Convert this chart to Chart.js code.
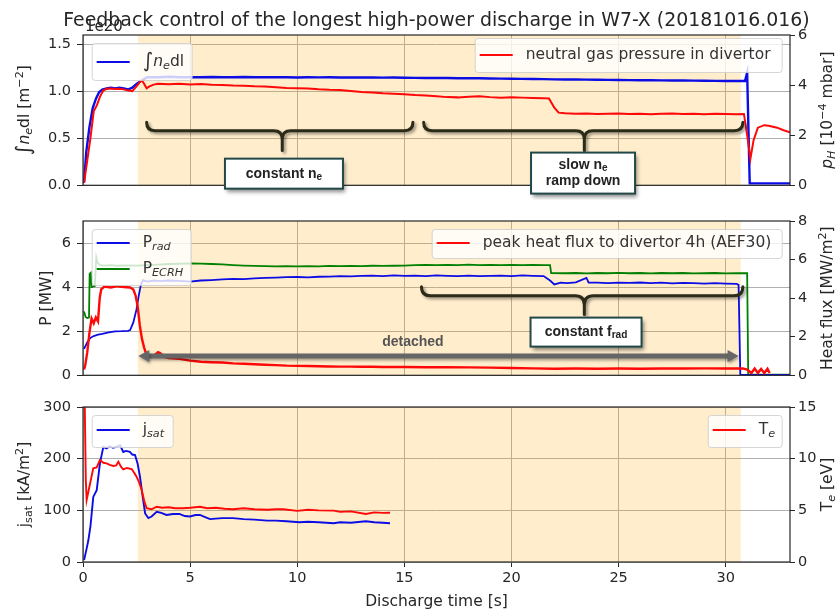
<!DOCTYPE html>
<html>
<head>
<meta charset="utf-8">
<script src="https://cdn.jsdelivr.net/npm/chart.js@4.4.0/dist/chart.umd.min.js"></script>
<style>
  html, body { margin: 0; padding: 0; background: #fff; }
  #wrap { position: relative; width: 840px; height: 613px; overflow: hidden; }
  canvas { position: absolute; left: 0; }
</style>
</head>
<body>
<div id="wrap">
  <canvas id="densityChart" width="840" height="200" style="top:0;width:840px;height:200px"></canvas>
  <canvas id="powerChart" width="840" height="190" style="top:200px;width:840px;height:190px"></canvas>
  <canvas id="probeChart" width="840" height="223" style="top:390px;width:840px;height:223px"></canvas>
</div>
<script>
// top panel: line integrated density [1e20 m^-2], neutral pressure [1e-4 mbar]
const neTime = [0.05,0.15,0.3,0.45,0.6,0.75,0.9,1.1,1.3,1.5,1.7,1.9,2.1,2.3,2.5,2.7,2.85,3.0,
  3.5,4,4.5,5,5.5,6,6.5,7,7.5,8,8.5,9,9.5,10,10.5,11,11.5,12,12.5,13,13.5,14,14.5,15,15.5,16,16.5,17,17.5,18,18.5,19,19.5,20,
  20.5,21,21.5,22,22.5,23,23.5,24,24.5,25,25.5,26,26.5,27,27.5,28,28.5,29,29.5,30,30.5,
  30.9,31.0,31.06,31.12,32,33];
const neLine = [0.03,0.35,0.62,0.82,0.92,0.99,1.02,1.03,1.04,1.03,1.04,1.03,1.02,1.04,1.08,1.11,1.13,1.15,
  1.15,1.155,1.15,1.152,1.15,1.153,1.15,1.151,1.153,1.15,1.152,1.15,1.151,1.148,1.15,1.149,1.151,1.148,1.149,1.147,1.148,1.146,1.147,1.145,1.144,1.143,1.144,1.142,1.14,1.141,1.139,1.137,1.136,1.134,
  1.133,1.131,1.13,1.128,1.127,1.126,1.125,1.124,1.122,1.121,1.12,1.119,1.118,1.117,1.116,1.115,1.114,1.113,1.112,1.111,1.11,
  1.11,1.2,0.6,0.02,0.02,0.02];

const pnTime = [0.05,0.2,0.35,0.5,0.65,0.8,0.95,1.1,1.3,1.5,1.7,1.9,2.1,2.3,2.5,2.65,2.75,2.85,2.97,3.1,3.3,3.5,
  4,4.5,5,5.5,6,6.5,7,7.5,8,8.5,9,9.5,10,10.5,11,11.5,12,12.5,13,13.5,14,14.5,15,15.5,16,16.5,17,17.5,18,18.5,19,19.5,20,20.5,21,21.5,
  21.75,22.0,22.2,
  22.5,23,23.5,24,24.5,25,25.5,26,26.5,27,27.5,28,28.5,29,29.5,30,30.5,
  30.85,31.0,31.15,31.3,31.5,31.8,32.0,32.4,32.7,33];
const pnLine = [0.1,1.0,1.9,2.95,3.2,3.55,3.78,3.85,3.86,3.84,3.85,3.83,3.78,3.76,3.95,4.12,4.19,4.05,3.87,3.95,4.02,4.05,
  4.03,4.05,4.02,4.04,4.01,4.0,3.98,3.97,3.95,3.94,3.91,3.88,3.87,3.86,3.83,3.81,3.8,3.76,3.72,3.7,3.67,3.65,3.63,3.6,3.58,3.55,3.52,3.51,3.53,3.55,3.52,3.5,3.51,3.5,3.49,3.48,
  3.47,3.1,2.9,
  2.88,2.86,2.87,2.85,2.86,2.87,2.85,2.86,2.84,2.86,2.87,2.85,2.86,2.84,2.86,2.85,2.84,
  2.85,2.0,1.05,1.8,2.3,2.4,2.38,2.3,2.2,2.12];

// middle panel: P_ECRH, P_rad [MW], peak divertor heat flux [MW/m^2]
const ecrhTime = [0.05,0.12,0.2,0.28,0.31,0.36,0.4,0.55,0.62,0.68,0.8,1.0,1.3,1.6,2.0,2.5,3.0,3.5,4.0,4.5,
  5,5.5,6,6.5,7,7.5,8,8.5,9,9.5,10,10.5,11,11.5,12,12.5,13,13.5,14,14.5,15,15.5,16,16.5,17,17.5,18,18.5,19,19.5,20,20.5,21,21.5,
  21.8,21.85,
  22.5,23,23.5,24,24.5,25,25.5,26,26.5,27,27.5,28,28.5,29,29.5,30,30.5,
  31.0,31.05,33];
const ecrhLine = [2.9,2.65,2.6,2.62,4.6,4.65,4.0,4.05,5.35,5.1,5.0,4.98,5.0,4.97,4.99,4.98,5.0,5.02,5.05,5.06,
  5.08,5.07,5.05,5.03,5.0,4.98,4.96,4.95,4.94,4.95,4.94,4.95,4.94,4.96,4.95,4.96,4.95,4.97,4.96,4.97,4.98,5.0,5.01,5.0,5.01,5.0,5.02,5.0,5.01,5.0,5.01,5.0,5.01,5.0,
  5.0,4.64,
  4.63,4.64,4.62,4.64,4.63,4.65,4.63,4.64,4.62,4.64,4.63,4.64,4.62,4.63,4.64,4.62,4.63,
  4.63,0.03,0.03];

const pradTime = [0.05,0.2,0.35,0.5,0.7,0.9,1.2,1.5,1.8,2.1,2.2,2.35,2.5,2.6,2.7,2.8,3.0,3.3,3.6,4.0,4.5,
  5,5.5,6,6.5,7,7.5,8,8.5,9,9.5,10,10.5,11,11.5,12,12.5,13,13.5,14,14.5,15,15.5,16,16.5,17,17.5,18,18.5,19,19.5,20,20.5,21,21.5,
  21.8,22.0,22.3,22.6,23.0,23.5,23.6,
  24,24.5,25,25.5,26,26.5,27,27.5,28,28.5,29,29.5,30,30.5,
  30.6,30.68,33];
const pradLine = [1.2,1.5,1.7,1.78,1.84,1.88,1.95,1.99,2.0,2.02,2.05,2.4,3.0,3.6,4.1,4.32,4.25,4.3,4.27,4.3,4.28,
  4.25,4.3,4.32,4.35,4.37,4.36,4.4,4.42,4.43,4.45,4.46,4.44,4.47,4.48,4.5,4.49,4.51,4.52,4.5,4.53,4.51,4.52,4.5,4.53,4.51,4.5,4.52,4.5,4.51,4.52,4.5,4.53,4.51,4.5,
  4.3,4.12,4.2,4.18,4.22,4.42,4.2,
  4.2,4.18,4.2,4.19,4.21,4.18,4.2,4.17,4.19,4.18,4.16,4.18,4.16,4.15,
  4.1,0.02,0.02];

const hfTime = [0.05,0.1,0.2,0.3,0.4,0.5,0.6,0.7,0.78,0.85,1.0,1.3,1.6,1.9,2.2,2.35,2.45,2.55,2.65,2.75,2.85,2.97,3.1,3.3,3.5,3.6,3.8,4.0,4.5,5.0,5.5,6.0,6.5,
  7,7.5,8,8.5,9,9.5,10,10.5,11,11.5,12,12.5,13,13.5,14,14.5,15,
  16,17,18,19,20,21,22,23,24,25,26,27,28,29,30,
  30.8,31.0,31.2,31.35,31.5,31.65,31.8,31.95,32.05];
const hfLine = [0.3,0.5,1.2,2.2,2.95,2.7,3.0,2.8,4.0,4.45,4.6,4.55,4.62,4.58,4.55,4.45,4.15,3.6,2.6,1.9,1.45,1.05,0.98,1.0,1.2,1.15,0.95,0.9,0.85,0.76,0.7,0.68,0.66,
  0.62,0.6,0.57,0.55,0.53,0.5,0.49,0.48,0.47,0.46,0.45,0.45,0.44,0.44,0.43,0.43,0.43,
  0.42,0.42,0.41,0.4,0.38,0.36,0.34,0.35,0.34,0.35,0.34,0.35,0.35,0.36,0.35,
  0.36,0.3,0.12,0.35,0.12,0.33,0.12,0.34,0.12];

// bottom panel: j_sat [kA/m^2], T_e [eV]
const jsTime = [0.05,0.15,0.25,0.35,0.48,0.64,0.79,0.95,1.1,1.25,1.4,1.55,1.73,1.88,2.0,2.19,2.3,2.43,2.55,2.66,2.78,2.9,3.05,3.2,3.44,3.65,3.9,
  4.2,4.5,4.75,5.0,5.25,5.46,5.7,5.93,6.2,6.5,7.0,7.5,8.0,8.6,9.0,9.5,10.1,10.5,11.0,11.7,12.0,12.5,13.2,13.6,14.0,14.33];
const jsLine = [4,22,42,70,126,139,191,223,220,224,221,223,226,213,215,213,208,207,190,165,128,94,85,88,97,95,91,
  93,93,89,88,91,91,87,83,84,85,85,83,82,80,80,79,77,78,77,75,77,76,79,77,76,75];

const teTime = [0.05,0.13,0.17,0.25,0.33,0.48,0.64,0.79,0.95,1.1,1.25,1.42,1.55,1.65,1.78,1.88,2.05,2.27,2.4,2.5,2.62,2.74,2.86,2.97,3.2,3.44,
  3.7,4.0,4.3,4.68,5.0,5.46,5.8,6.2,6.6,7.0,7.5,8.0,8.6,9.0,9.35,10,10.5,11,11.7,12.0,12.5,13.2,13.6,14.0,14.33];
const teLine = [20,8,6.0,6.8,7.6,9.07,9.16,9.87,9.6,9.55,9.4,9.29,9.35,9.71,9.2,8.97,9.1,9.0,8.6,8.26,7.7,6.97,5.9,5.2,5.1,5.35,
  5.25,5.3,5.2,5.2,5.25,5.35,5.2,5.25,5.15,5.1,5.2,5.1,5.05,5.1,5.1,4.95,5.05,5.0,4.97,4.85,4.9,4.65,4.8,4.75,4.77];

// flat-top phase shaded in all panels [s]
const shadeSpan = [2.56, 30.7];

const FAMILY = '"DejaVu Sans", sans-serif';
const BOLD_FAMILY = '"Liberation Sans", Arial, sans-serif';
const INK = '#262626';
const BLUE = 'rgb(12,12,228)';
const RED = 'rgb(255,8,8)';
const GREEN = 'rgb(0,128,0)';

function pts(ts, vs) {
  return ts.map((t, i) => ({ x: t, y: vs[i] }));
}

// text with sub/superscripts, parts = ['text', ['e', 'it sub'], ...]
function drawRich(ctx, parts, x, y, o = {}) {
  const size = o.size || 15.5;
  const family = o.family || FAMILY;
  const runs = parts.map(p => {
    const text = Array.isArray(p) ? p[0] : p;
    const mode = Array.isArray(p) ? p[1].split(' ') : [];
    const small = mode.includes('sub') || mode.includes('sup');
    let sz = small ? size * 0.72 : size;
    if (mode.includes('big')) sz = size * 1.3;
    const font = (mode.includes('it') ? 'italic ' : '') + (o.bold ? 'bold ' : '') + sz.toFixed(1) + 'px ' + family;
    ctx.font = font;
    const dy = mode.includes('sub') ? size * 0.25 : mode.includes('sup') ? -size * 0.3 : 0;
    return { text, font, dy, w: ctx.measureText(text).width };
  });
  const total = runs.reduce((s, r) => s + r.w, 0);
  ctx.save();
  ctx.translate(x, y);
  if (o.rot) ctx.rotate(o.rot);
  ctx.fillStyle = o.color || INK;
  ctx.textBaseline = 'middle';
  ctx.textAlign = 'left';
  let cx = o.align === 'left' ? 0 : -total / 2;
  runs.forEach(r => { ctx.font = r.font; ctx.fillText(r.text, cx, r.dy); cx += r.w; });
  ctx.restore();
}

function drawLegend(ctx, a, lg) {
  const x = lg.side === 'left' ? a.left + lg.dx : a.right - lg.dx - lg.w;
  const y = a.top + lg.dy;
  ctx.save();
  ctx.fillStyle = 'rgba(255,255,255,0.8)';
  ctx.strokeStyle = 'rgba(204,204,204,0.8)';
  ctx.lineWidth = 1;
  ctx.beginPath();
  ctx.roundRect(x + 0.5, y + 0.5, lg.w, lg.h, 3);
  ctx.fill();
  ctx.stroke();
  lg.entries.forEach(e => {
    const ey = y + e.dy;
    ctx.strokeStyle = e.color;
    ctx.lineWidth = 2;
    ctx.beginPath();
    ctx.moveTo(x + 5, ey);
    ctx.lineTo(x + 38, ey);
    ctx.stroke();
    drawRich(ctx, e.parts, x + 51, ey, { align: 'left', color: '#333' });
  });
  ctx.restore();
}

function drawBrace(ctx, chart, t0, t1, tc, vEnd, vLine, vTip) {
  const { x, y } = chart.scales;
  const x0 = x.getPixelForValue(t0), x1 = x.getPixelForValue(t1), xc = x.getPixelForValue(tc);
  const ye = y.getPixelForValue(vEnd), yl = y.getPixelForValue(vLine), yt = y.getPixelForValue(vTip);
  const r = yl - ye;
  ctx.save();
  ctx.strokeStyle = '#2b2b17';
  ctx.lineWidth = 3;
  ctx.lineCap = 'round';
  ctx.shadowColor = 'rgba(0,0,0,0.4)';
  ctx.shadowBlur = 3;
  ctx.shadowOffsetX = 2;
  ctx.shadowOffsetY = 2;
  ctx.beginPath();
  ctx.moveTo(x0, ye);
  ctx.quadraticCurveTo(x0, yl, x0 + r, yl);
  ctx.lineTo(xc - r, yl);
  ctx.quadraticCurveTo(xc, yl, xc, yl + r);
  ctx.lineTo(xc, yt);
  ctx.moveTo(xc, yl + r);
  ctx.quadraticCurveTo(xc, yl, xc + r, yl);
  ctx.lineTo(x1 - r, yl);
  ctx.quadraticCurveTo(x1, yl, x1, ye);
  ctx.stroke();
  ctx.restore();
}

function drawNote(ctx, chart, tc, vc, w, h, lines) {
  const cx = chart.scales.x.getPixelForValue(tc), cy = chart.scales.y.getPixelForValue(vc);
  ctx.save();
  ctx.shadowColor = 'rgba(0,0,0,0.45)';
  ctx.shadowBlur = 4;
  ctx.shadowOffsetX = 2;
  ctx.shadowOffsetY = 3;
  ctx.fillStyle = '#fff';
  ctx.fillRect(cx - w / 2, cy - h / 2, w, h);
  ctx.shadowColor = 'transparent';
  ctx.strokeStyle = '#234848';
  ctx.lineWidth = 2;
  ctx.strokeRect(cx - w / 2, cy - h / 2, w, h);
  ctx.restore();
  lines.forEach((parts, i) => {
    drawRich(ctx, parts, cx, cy + (i - (lines.length - 1) / 2) * 16,
      { size: 14, bold: true, family: BOLD_FAMILY, color: '#222' });
  });
}

function drawSpanArrow(ctx, chart, t0, t1, v) {
  const x0 = chart.scales.x.getPixelForValue(t0), x1 = chart.scales.x.getPixelForValue(t1);
  const yy = chart.scales.y.getPixelForValue(v);
  ctx.save();
  ctx.shadowColor = 'rgba(0,0,0,0.35)';
  ctx.shadowBlur = 3;
  ctx.shadowOffsetX = 1;
  ctx.shadowOffsetY = 2;
  ctx.strokeStyle = '#666';
  ctx.fillStyle = '#666';
  ctx.lineWidth = 5;
  ctx.beginPath();
  ctx.moveTo(x0 + 8, yy);
  ctx.lineTo(x1 - 8, yy);
  ctx.stroke();
  ctx.beginPath();
  ctx.moveTo(x0, yy); ctx.lineTo(x0 + 11, yy - 6); ctx.lineTo(x0 + 11, yy + 6); ctx.closePath();
  ctx.moveTo(x1, yy); ctx.lineTo(x1 - 11, yy - 6); ctx.lineTo(x1 - 11, yy + 6); ctx.closePath();
  ctx.fill();
  ctx.restore();
}

function decor(spec) {
  return {
    id: 'decor',
    beforeDatasetsDraw(chart) {
      const { ctx, chartArea: a, scales: { x } } = chart;
      const x0 = x.getPixelForValue(shadeSpan[0]), x1 = x.getPixelForValue(shadeSpan[1]);
      ctx.save();
      ctx.fillStyle = 'rgba(255,165,0,0.2)';
      ctx.fillRect(x0, a.top, x1 - x0, a.bottom - a.top);
      ctx.restore();
    },
    afterDatasetsDraw(chart) {
      const { ctx, chartArea: a } = chart;
      ctx.save();
      ctx.strokeStyle = INK;
      ctx.lineWidth = 1.2;
      ctx.strokeRect(a.left, a.top, a.right - a.left, a.bottom - a.top);
      ctx.restore();
      spec.legends.forEach(lg => drawLegend(ctx, a, lg));
    },
    afterDraw(chart) {
      const { ctx, chartArea: a } = chart;
      const midY = (a.top + a.bottom) / 2;
      drawRich(ctx, spec.leftTitle, spec.leftX, midY, { rot: -Math.PI / 2 });
      drawRich(ctx, spec.rightTitle, 828, midY, { rot: -Math.PI / 2 });
      if (spec.extra) spec.extra(chart, ctx, a);
    }
  };
}

function xScale(showLabels) {
  return {
    type: 'linear', min: 0, max: 33,
    ticks: { stepSize: 5, includeBounds: false, display: showLabels, color: INK,
      font: { family: FAMILY, size: 14.5 }, padding: 3, maxRotation: 0 },
    grid: { color: '#b0b0b0', lineWidth: 1, drawTicks: showLabels, tickLength: 5, tickColor: INK },
    border: { display: false },
    afterFit: s => { s.height = showLabels ? 51 : 0; }
  };
}

function yScale(side, min, max, step, fmt) {
  const left = side === 'left';
  return {
    type: 'linear', position: side, min, max,
    ticks: { stepSize: step, includeBounds: false, color: INK, font: { family: FAMILY, size: 14.5 },
      padding: left ? 6 : 3, callback: fmt || (v => v) },
    grid: { drawOnChartArea: left, color: '#b0b0b0', lineWidth: 1, tickLength: left ? 6 : 5, tickColor: INK },
    border: { display: false },
    afterFit: s => { s.width = left ? 83 : 50; }
  };
}

function series(label, ts, vs, color, axis, order, width) {
  return {
    label, data: pts(ts, vs), borderColor: color, borderWidth: width || 1.8,
    pointRadius: 0, tension: 0, fill: false, yAxisID: axis, order
  };
}

function makePanel(id, datasets, scales, padding, spec) {
  return new Chart(document.getElementById(id).getContext('2d'), {
    type: 'line',
    data: { datasets },
    options: {
      responsive: false, animation: false, devicePixelRatio: 1, events: [],
      layout: { padding },
      scales,
      plugins: { legend: { display: false }, tooltip: { enabled: false } }
    },
    plugins: [decor(spec)]
  });
}

makePanel('densityChart',
  [series('p_H', pnTime, pnLine, RED, 'y1', 0, 2), series('ne', neTime, neLine, BLUE, 'y', 1, 2.4)],
  { x: xScale(false), y: yScale('left', 0, 1.6, 0.5, v => v.toFixed(1)), y1: yScale('right', 0, 6, 2) },
  { top: 35, bottom: 10, left: 0, right: 0 },
  {
    leftX: 25, rightTitle: [['p', 'it'], ['H', 'it sub'], ' [10', ['\u22124', 'sup'], ' mbar]'],
    leftTitle: [['\u222B', 'big'], ['n', 'it'], ['e', 'it sub'], 'dl [m', ['\u22122', 'sup'], ']'],
    legends: [
      { side: 'left', dx: 8.7, dy: 8, w: 100, h: 37, entries: [{ dy: 19, color: BLUE, parts: [['\u222B', 'big'], ['n', 'it'], ['e', 'it sub'], 'dl'] }] },
      { side: 'right', dx: 8.3, dy: 3, w: 307, h: 34, entries: [{ dy: 17, color: RED, parts: ['neutral gas pressure in divertor'] }] }
    ],
    extra(chart, ctx, a) {
      ctx.save();
      ctx.fillStyle = INK;
      ctx.textAlign = 'center';
      ctx.textBaseline = 'alphabetic';
      ctx.font = '18.9px ' + FAMILY;
      ctx.fillText('Feedback control of the longest high-power discharge in W7-X (20181016.016)', (a.left + a.right) / 2, 26);
      ctx.textAlign = 'left';
      ctx.font = '15px ' + FAMILY;
      ctx.fillText('1e20', a.left + 2, 31);
      ctx.restore();
      drawBrace(ctx, chart, 2.97, 15.4, 9.3, 0.67, 0.58, 0.37);
      drawBrace(ctx, chart, 15.9, 30.8, 23.4, 0.67, 0.58, 0.37);
      drawNote(ctx, chart, 9.38, 0.124, 118, 30, [['constant n', ['e', 'sub']]]);
      drawNote(ctx, chart, 23.34, 0.13, 104, 41, [['slow n', ['e', 'sub']], ['ramp down']]);
    }
  });

makePanel('powerChart',
  [series('heat flux', hfTime, hfLine, RED, 'y1', 0, 2.4),
   series('P_rad', pradTime, pradLine, BLUE, 'y', 1, 1.8),
   series('P_ECRH', ecrhTime, ecrhLine, GREEN, 'y', 2, 1.8)],
  { x: xScale(false), y: yScale('left', 0, 7, 2), y1: yScale('right', 0, 8, 2) },
  { top: 21, bottom: 14, left: 0, right: 0 },
  {
    leftX: 47, leftTitle: ['P [MW]'],
    rightTitle: ['Heat flux [MW/m', ['2', 'sup'], ']'],
    legends: [
      { side: 'left', dx: 8.7, dy: 8, w: 99, h: 56, entries: [
        { dy: 14, color: BLUE, parts: ['P', ['rad', 'it sub']] },
        { dy: 40, color: GREEN, parts: ['P', ['ECRH', 'it sub']] }] },
      { side: 'right', dx: 8.3, dy: 8, w: 350, h: 29, entries: [{ dy: 14, color: RED, parts: ['peak heat flux to divertor 4h (AEF30)'] }] }
    ],
    extra(chart, ctx) {
      drawBrace(ctx, chart, 15.8, 30.8, 23.4, 4.02, 3.61, 2.76);
      drawNote(ctx, chart, 23.48, 1.96, 111, 29, [['constant f', ['rad', 'sub']]]);
      drawSpanArrow(ctx, chart, 2.58, 30.6, 0.87);
      drawRich(ctx, ['detached'], chart.scales.x.getPixelForValue(15.4), chart.scales.y.getPixelForValue(1.49),
        { size: 14, bold: true, family: BOLD_FAMILY, color: '#555' });
    }
  });

makePanel('probeChart',
  [series('T_e', teTime, teLine, RED, 'y1', 0, 1.9), series('j_sat', jsTime, jsLine, BLUE, 'y', 1, 1.9)],
  { x: xScale(true), y: yScale('left', 0, 300, 100), y1: yScale('right', 0, 15, 5) },
  { top: 17, bottom: 0, left: 0, right: 0 },
  {
    leftX: 25, leftTitle: ['j', ['sat', 'sub'], ' [kA/m', ['2', 'sup'], ']'],
    rightTitle: ['T', ['e', 'it sub'], ' [eV]'],
    legends: [
      { side: 'left', dx: 8.7, dy: 8, w: 81, h: 32, entries: [{ dy: 15, color: BLUE, parts: ['j', ['sat', 'it sub']] }] },
      { side: 'right', dx: 8.3, dy: 8, w: 74, h: 32, entries: [{ dy: 15, color: RED, parts: ['T', ['e', 'it sub']] }] }
    ],
    extra(chart, ctx, a) {
      drawRich(ctx, ['Discharge time [s]'], (a.left + a.right) / 2, 211.5);
    }
  });
</script>
</body>
</html>
